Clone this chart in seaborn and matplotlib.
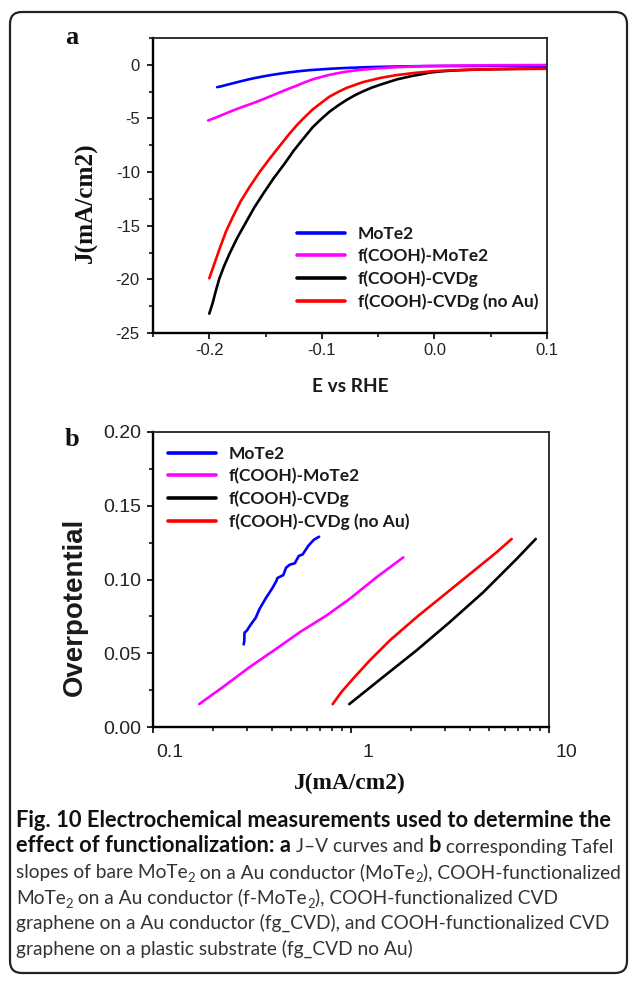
import numpy as np
import pandas as pd
import matplotlib
matplotlib.use("Agg")
import matplotlib.pyplot as plt
import matplotlib.transforms as mtransforms
from matplotlib.patches import FancyBboxPatch
from matplotlib.ticker import MultipleLocator, FixedLocator, FixedFormatter, LogLocator, NullFormatter
import seaborn as sns

# ---------------- data ----------------
series_names = ["MoTe2", "f(COOH)-MoTe2", "f(COOH)-CVDg", "f(COOH)-CVDg (no Au)"]
series_colors = ["#0000ff", "#ff00ff", "#000000", "#ff0000"]

# panel a : J-V curves (E vs RHE, J in mA/cm2)
E_mote2 = [-0.193, -0.190, -0.185, -0.179, -0.173, -0.166, -0.160, -0.152, -0.145, -0.137, -0.128, -0.120,
           -0.110, -0.100, -0.093, -0.080, -0.065, -0.048, -0.030, -0.010, 0.020, 0.060, 0.100]
J_mote2 = [-2.08, -2.02, -1.88, -1.72, -1.56, -1.38, -1.24, -1.08, -0.95, -0.82, -0.69, -0.59,
           -0.49, -0.42, -0.37, -0.30, -0.24, -0.19, -0.15, -0.12, -0.11, -0.10, -0.10]

E_fmote2 = [-0.201, -0.195, -0.188, -0.180, -0.172, -0.165, -0.158, -0.152, -0.145, -0.137, -0.130, -0.122,
            -0.115, -0.108, -0.100, -0.093, -0.085, -0.078, -0.070, -0.063, -0.055, -0.048, -0.035, -0.020,
            -0.004, 0.020, 0.050, 0.100]
J_fmote2 = [-5.19, -4.95, -4.65, -4.30, -3.98, -3.72, -3.45, -3.20, -2.90, -2.55, -2.25, -1.93,
            -1.62, -1.35, -1.12, -0.93, -0.76, -0.63, -0.52, -0.44, -0.37, -0.31, -0.23, -0.16,
            -0.11, -0.07, -0.04, -0.02]

E_cvdg = [-0.200, -0.197, -0.194, -0.191, -0.187, -0.182, -0.175, -0.167, -0.160, -0.152, -0.143, -0.133,
          -0.125, -0.117, -0.108, -0.100, -0.093, -0.085, -0.078, -0.070, -0.063, -0.055, -0.048, -0.040,
          -0.033, -0.025, -0.019, -0.010, -0.004, 0.005, 0.015, 0.030, 0.050, 0.075, 0.100]
J_cvdg = [-23.2, -22.2, -21.0, -19.9, -18.8, -17.6, -16.1, -14.6, -13.3, -12.0, -10.6, -9.2,
          -8.0, -6.95, -5.8, -5.0, -4.35, -3.75, -3.27, -2.80, -2.45, -2.10, -1.85, -1.58,
          -1.35, -1.16, -1.02, -0.85, -0.72, -0.62, -0.54, -0.47, -0.41, -0.37, -0.34]

E_cvdg_noau = [-0.200, -0.195, -0.190, -0.185, -0.179, -0.172, -0.164, -0.155, -0.146, -0.137, -0.129, -0.122,
               -0.115, -0.108, -0.100, -0.093, -0.085, -0.078, -0.070, -0.063, -0.055, -0.048, -0.040, -0.033,
               -0.025, -0.019, -0.010, -0.004, 0.005, 0.015, 0.030, 0.050, 0.075, 0.100]
J_cvdg_noau = [-19.9, -18.4, -16.9, -15.5, -14.15, -12.7, -11.35, -9.95, -8.7, -7.5, -6.45, -5.6,
               -4.85, -4.15, -3.5, -2.95, -2.5, -2.15, -1.85, -1.6, -1.4, -1.22, -1.07, -0.95,
               -0.85, -0.77, -0.68, -0.62, -0.56, -0.51, -0.46, -0.42, -0.39, -0.37]

# panel b : Tafel plots (J in mA/cm2, overpotential in V)
Jt_mote2 = [0.287, 0.289, 0.290, 0.296, 0.300, 0.310, 0.330, 0.345, 0.370, 0.400, 0.420, 0.425, 0.440,
            0.455, 0.470, 0.480, 0.490, 0.520, 0.545, 0.570, 0.610, 0.650, 0.690]
eta_mote2 = [0.056, 0.058, 0.064, 0.065, 0.066, 0.069, 0.074, 0.080, 0.087, 0.094, 0.099, 0.101, 0.102,
             0.103, 0.108, 0.109, 0.110, 0.111, 0.116, 0.117, 0.123, 0.127, 0.129]

Jt_fmote2 = [0.171, 0.226, 0.309, 0.421, 0.553, 0.754, 0.988, 1.348, 1.837]
eta_fmote2 = [0.0155, 0.0272, 0.0408, 0.0532, 0.0644, 0.0757, 0.0870, 0.1016, 0.1150]

Jt_cvdg = [0.98, 1.456, 2.146, 3.16, 4.66, 6.87, 8.57]
eta_cvdg = [0.0155, 0.0340, 0.0520, 0.0712, 0.0914, 0.1140, 0.1275]

Jt_cvdg_noau = [0.808, 0.897, 1.027, 1.247, 1.574, 2.146, 2.93, 3.99, 5.44, 6.48]
eta_cvdg_noau = [0.0155, 0.0239, 0.0329, 0.0453, 0.0588, 0.0745, 0.0892, 0.1038, 0.1185, 0.1275]

xa_ticks = [-0.2, -0.1, 0.0, 0.1]
xa_ticklabels = ["-0.2", "-0.1", "0.0", "0.1"]
ya_ticks = [-25, -20, -15, -10, -5, 0]
ya_ticklabels = ["-25", "-20", "-15", "-10", "-5", "0"]
xb_ticks = [0.1, 1, 10]
xb_ticklabels = ["0.1", "1", "10"]
yb_ticks = [0.00, 0.05, 0.10, 0.15, 0.20]
yb_ticklabels = ["0.00", "0.05", "0.10", "0.15", "0.20"]

caption_lines = [
    [("Fig. 10 Electrochemical measurements used to determine the", "b")],
    [("effect of functionalization: a", "b"), (" J\u2013V curves and ", "r"), ("b", "b"), (" corresponding Tafel", "r")],
    [("slopes of bare MoTe", "r"), ("2", "s"), (" on a Au conductor (MoTe", "r"), ("2", "s"), ("), COOH-functionalized", "r")],
    [("MoTe", "r"), ("2", "s"), (" on a Au conductor (f-MoTe", "r"), ("2", "s"), ("), COOH-functionalized CVD", "r")],
    [("graphene on a Au conductor (fg_CVD), and COOH-functionalized CVD", "r")],
    [("graphene on a plastic substrate (fg_CVD no Au)", "r")],
]

# ---------------- frames ----------------
dfa = pd.concat([
    pd.DataFrame({"E": E_mote2, "J": J_mote2, "series": series_names[0]}),
    pd.DataFrame({"E": E_fmote2, "J": J_fmote2, "series": series_names[1]}),
    pd.DataFrame({"E": E_cvdg, "J": J_cvdg, "series": series_names[2]}),
    pd.DataFrame({"E": E_cvdg_noau, "J": J_cvdg_noau, "series": series_names[3]}),
], ignore_index=True)
dfb = pd.concat([
    pd.DataFrame({"J": Jt_mote2, "eta": eta_mote2, "series": series_names[0]}),
    pd.DataFrame({"J": Jt_fmote2, "eta": eta_fmote2, "series": series_names[1]}),
    pd.DataFrame({"J": Jt_cvdg, "eta": eta_cvdg, "series": series_names[2]}),
    pd.DataFrame({"J": Jt_cvdg_noau, "eta": eta_cvdg_noau, "series": series_names[3]}),
], ignore_index=True)

sns.set_theme(style="ticks")
plt.rcParams["font.family"] = ["Liberation Sans", "DejaVu Sans"]
plt.rcParams["axes.unicode_minus"] = False

W, H = 629, 983
fig = plt.figure(figsize=(W / 100, H / 100), dpi=100)
fig.patch.set_facecolor("white")
R = fig.canvas.get_renderer()


def fx(x):
    return x / W


def fy(y):
    return 1 - y / H


def text_w(s, **kw):
    t = fig.text(0, 0, s, **kw)
    w = t.get_window_extent(renderer=R).width
    t.remove()
    return w


def fit_size(s, target, **kw):
    return 10 * target / text_w(s, fontsize=10, **kw)


palette = dict(zip(series_names, series_colors))
LW = 1.9

ax1 = fig.add_axes([fx(153), fy(333), (547 - 153) / W, (333 - 38) / H])
ax2 = fig.add_axes([fx(153), fy(727), (549 - 153) / W, (727 - 432) / H])

sns.lineplot(data=dfa, x="E", y="J", hue="series", hue_order=series_names, palette=palette,
             sort=False, estimator=None, lw=LW, ax=ax1, legend=False)
sns.lineplot(data=dfb, x="J", y="eta", hue="series", hue_order=series_names, palette=palette,
             sort=False, estimator=None, lw=LW, ax=ax2, legend=False)

# ---- axis a ----
ax1.set_xlim(-0.25, 0.1)
ax1.set_ylim(-25, 2.5)
ax1.xaxis.set_major_locator(FixedLocator(xa_ticks))
ax1.xaxis.set_major_formatter(FixedFormatter(xa_ticklabels))
ax1.xaxis.set_minor_locator(MultipleLocator(0.05))
ax1.yaxis.set_major_locator(FixedLocator(ya_ticks))
ax1.yaxis.set_major_formatter(FixedFormatter(ya_ticklabels))
ax1.yaxis.set_minor_locator(MultipleLocator(2.5))

# ---- axis b ----
ax2.set_xscale("log")
ax2.set_xlim(0.1, 10)
ax2.set_ylim(0, 0.2)
ax2.xaxis.set_major_locator(FixedLocator(xb_ticks))
ax2.xaxis.set_major_formatter(FixedFormatter(xb_ticklabels))
ax2.xaxis.set_minor_locator(LogLocator(base=10, subs=np.arange(2, 10)))
ax2.xaxis.set_minor_formatter(NullFormatter())
ax2.yaxis.set_major_locator(FixedLocator(yb_ticks))
ax2.yaxis.set_major_formatter(FixedFormatter(yb_ticklabels))
ax2.yaxis.set_minor_locator(MultipleLocator(0.025))

for ax in (ax1, ax2):
    ax.set_xlabel("")
    ax.set_ylabel("")
    ax.set_facecolor("white")
    for s in ("left", "bottom"):
        ax.spines[s].set_linewidth(1.7)
        ax.spines[s].set_color("black")
    for s in ("top", "right"):
        ax.spines[s].set_visible(True)
        ax.spines[s].set_linewidth(1.3)
        ax.spines[s].set_color("#222222")
    ax.tick_params(which="major", direction="out", length=4.5, width=1.2, color="black",
                   labelcolor="#222222")
    ax.tick_params(which="minor", direction="out", length=2.8, width=1.1, color="black")

ax1.tick_params(axis="both", which="major", labelsize=12)
ax1.tick_params(axis="y", which="major", pad=5)
ax1.tick_params(axis="x", which="major", pad=3)
ax2.tick_params(axis="both", which="major", labelsize=14)
ax2.tick_params(axis="y", which="major", pad=4)
ax2.tick_params(axis="x", which="major", pad=8)
# tick labels of the log axis sit a little to the right of their ticks
offset = mtransforms.ScaledTranslation(0.17, 0, fig.dpi_scale_trans)
for lab in ax2.get_xticklabels():
    lab.set_transform(lab.get_transform() + offset)

# ---- legends ----
leg_size = fit_size("f(COOH)-CVDg (no Au)", 180, family="Lato", weight="bold")
leg_kw = dict(frameon=False, handlelength=2.75, handletextpad=0.75, labelspacing=0.36,
              borderpad=0, borderaxespad=0,
              prop={"family": "Lato", "weight": "bold", "size": leg_size})
l1 = ax1.legend(ax1.lines[:4], series_names, loc="upper left",
                bbox_to_anchor=(fx(297), fy(226)), bbox_transform=fig.transFigure, **leg_kw)
l2 = ax2.legend(ax2.lines[:4], series_names, loc="upper left",
                bbox_to_anchor=(fx(168), fy(446)), bbox_transform=fig.transFigure, **leg_kw)
for lg in (l1, l2):
    for h in lg.get_lines():
        h.set_linewidth(2.6)
    for t in lg.get_texts():
        t.set_color("#1a1a1a")

# ---- labels ----
serif = dict(family=["Liberation Serif", "DejaVu Serif"], weight="bold")
fig.text(fx(72), fy(38), "a", ha="center", va="center", fontsize=19, color="#111111", **serif)
fig.text(fx(72), fy(440), "b", ha="center", va="center", fontsize=19, color="#111111", **serif)

s_ja = fit_size("J(mA/cm2)", 121, **serif)
fig.text(fx(86), fy(203), "J(mA/cm2)", rotation=90, ha="center", va="center",
         fontsize=s_ja, color="#111111", **serif)
s_jb = fit_size("J(mA/cm2)", 112, **serif)
fig.text(fx(350), fy(783), "J(mA/cm2)", ha="center", va="center",
         fontsize=s_jb, color="#111111", **serif)

s_e = fit_size("E vs RHE", 77, family="Lato", weight="bold")
fig.text(fx(350), fy(386), "E vs RHE", ha="center", va="center",
         fontsize=s_e, color="#1a1a1a", family="Lato", weight="bold")

s_ov = fit_size("Overpotential", 178, family="Liberation Sans", weight="bold")
fig.text(fx(75), fy(607), "Overpotential", rotation=90, ha="center", va="center",
         fontsize=s_ov, color="#1a1a1a", family="Liberation Sans", weight="bold")

# ---- caption ----
cap_family = ["Lato", "DejaVu Sans"]


def run_width(s, weight, size):
    a = text_w("|" + s + "|", family=cap_family, weight=weight, fontsize=size)
    b = text_w("||", family=cap_family, weight=weight, fontsize=size)
    return a - b


def run_style(kind, bsize, rsize):
    if kind == "b":
        return dict(weight="bold", fontsize=bsize, color="#111111"), 0
    if kind == "r":
        return dict(weight="normal", fontsize=rsize, color="#333333"), 0
    return dict(weight="normal", fontsize=rsize * 0.68, color="#333333"), 4


def line_width(line, bsize, rsize):
    tot = 0.0
    for s, kind in line:
        kw, _ = run_style(kind, bsize, rsize)
        tot += run_width(s, kw["weight"], kw["fontsize"])
    return tot


cap_bold = fit_size("Fig. 10 Electrochemical measurements used to determine the", 596,
                    family=cap_family, weight="bold")
cap_reg = 10.0 * 606.0 / line_width(caption_lines[2], cap_bold, 10.0)

baselines = [827, 852.5, 878, 903.5, 929, 954.5]
for line, yb in zip(caption_lines, baselines):
    x = 16.0
    for s, kind in line:
        kw, dy = run_style(kind, cap_bold, cap_reg)
        fig.text(fx(x), fy(yb + dy), s, ha="left", va="baseline", family=cap_family, **kw)
        x += run_width(s, kw["weight"], kw["fontsize"])

# ---- outer rounded frame ----
frame = FancyBboxPatch((10, H - 973), 617, 961, boxstyle="round,pad=0,rounding_size=12",
                       transform=mtransforms.IdentityTransform(), fill=False,
                       edgecolor="#222222", linewidth=1.6)
fig.patches.append(frame)

fig.savefig("out.png", dpi=100, facecolor="white")
